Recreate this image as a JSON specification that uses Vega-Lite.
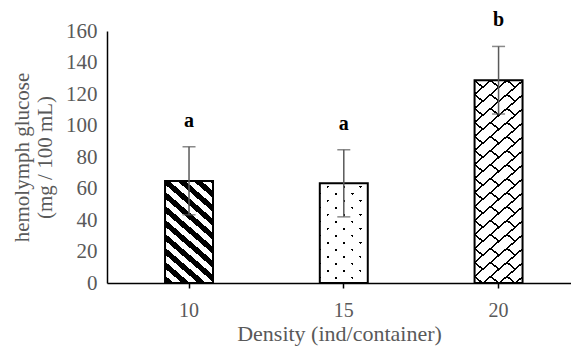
{
"$schema":"https://vega.github.io/schema/vega-lite/v6.json",
"width":464,"height":252,
"autosize":{"type":"none"},
"padding":{"left":107,"top":31,"right":0,"bottom":69},
"background":"white",
"config":{"view":{"stroke":null},"font":"Liberation Serif",
"axisY":{"grid":false,"ticks":false,"tickSize":0,"labelPadding":10,"labelFont":"Liberation Serif","labelFontSize":21,"labelColor":"#595959","domainColor":"black","domainWidth":1.5,"titleFont":"Liberation Serif","titleFontSize":21,"titleFontWeight":"normal","titleColor":"#595959","titleX":-85,"titleY":126,"titleAngle":-90,"titleBaseline":"middle","titleAlign":"center","titleLineHeight":23}},
"data":{"values":[
{"density":10,"mean":64.8,"lo":43.3,"hi":86.5,"sig":"a"},
{"density":15,"mean":63.4,"lo":42.0,"hi":84.6,"sig":"a"},
{"density":20,"mean":128.7,"lo":107.3,"hi":150.2,"sig":"b"}]},
"encoding":{
"x":{"field":"density","type":"ordinal","scale":{"type":"band","paddingInner":0.69,"paddingOuter":0.344,"align":0.545},
"axis":{"title":"Density (ind/container)","labelAngle":0,"labelFont":"Liberation Serif","labelFontSize":20,"labelColor":"#595959","labelBaseline":"alphabetic","labelPadding":28,"tickSize":5,"tickColor":"black","tickWidth":1.5,"domainColor":"black","domainWidth":1.5,"titleFont":"Liberation Serif","titleFontSize":22,"titleFontWeight":"normal","titleColor":"#595959","titleBaseline":"alphabetic","titleY":57}},
"y":{"field":"mean","type":"quantitative","scale":{"domain":[0,160],"nice":false},
"axis":{"title":["hemolymph glucose","(mg / 100 mL)"],"values":[0,20,40,60,80,100,120,140,160]}}
},
"layer":[
{"transform":[{"filter":"datum.density == 10"}],
"mark":{"type":"bar","fill":{"gradient":"linear","x1":0,"y1":1,"x2":0.4903,"y2":-0.207,"stops":[
{"offset":0,"color":"white"},{"offset":0.00418,"color":"white"},{"offset":0.00418,"color":"black"},{"offset":0.05294,"color":"black"},{"offset":0.05294,"color":"white"},{"offset":0.10169,"color":"white"},{"offset":0.10169,"color":"black"},{"offset":0.15045,"color":"black"},{"offset":0.15045,"color":"white"},{"offset":0.19921,"color":"white"},{"offset":0.19921,"color":"black"},{"offset":0.24796,"color":"black"},{"offset":0.24796,"color":"white"},{"offset":0.29672,"color":"white"},{"offset":0.29672,"color":"black"},{"offset":0.34548,"color":"black"},{"offset":0.34548,"color":"white"},{"offset":0.39423,"color":"white"},{"offset":0.39423,"color":"black"},{"offset":0.44299,"color":"black"},{"offset":0.44299,"color":"white"},{"offset":0.49175,"color":"white"},{"offset":0.49175,"color":"black"},{"offset":0.5405,"color":"black"},{"offset":0.5405,"color":"white"},{"offset":0.58926,"color":"white"},{"offset":0.58926,"color":"black"},{"offset":0.63802,"color":"black"},{"offset":0.63802,"color":"white"},{"offset":0.68677,"color":"white"},{"offset":0.68677,"color":"black"},{"offset":0.73553,"color":"black"},{"offset":0.73553,"color":"white"},{"offset":0.78428,"color":"white"},{"offset":0.78428,"color":"black"},{"offset":0.83304,"color":"black"},{"offset":0.83304,"color":"white"},{"offset":0.8818,"color":"white"},{"offset":0.8818,"color":"black"},{"offset":0.93056,"color":"black"},{"offset":0.93056,"color":"white"},{"offset":0.97931,"color":"white"},{"offset":0.97931,"color":"black"},{"offset":1,"color":"black"}]}}},
{"transform":[{"filter":"datum.density == 15"}],
"mark":{"type":"bar","fill":{"gradient":"linear","x1":0,"y1":1,"x2":0.5021,"y2":-0.2071,"stops":[
{"offset":0,"color":"white"},{"offset":0.02763,"color":"white"},{"offset":0.02763,"color":"black"},{"offset":0.04604,"color":"black"},{"offset":0.04604,"color":"white"},{"offset":0.1268,"color":"white"},{"offset":0.1268,"color":"black"},{"offset":0.14522,"color":"black"},{"offset":0.14522,"color":"white"},{"offset":0.22597,"color":"white"},{"offset":0.22597,"color":"black"},{"offset":0.24439,"color":"black"},{"offset":0.24439,"color":"white"},{"offset":0.32514,"color":"white"},{"offset":0.32514,"color":"black"},{"offset":0.34356,"color":"black"},{"offset":0.34356,"color":"white"},{"offset":0.42431,"color":"white"},{"offset":0.42431,"color":"black"},{"offset":0.44273,"color":"black"},{"offset":0.44273,"color":"white"},{"offset":0.52348,"color":"white"},{"offset":0.52348,"color":"black"},{"offset":0.5419,"color":"black"},{"offset":0.5419,"color":"white"},{"offset":0.62265,"color":"white"},{"offset":0.62265,"color":"black"},{"offset":0.64107,"color":"black"},{"offset":0.64107,"color":"white"},{"offset":0.72183,"color":"white"},{"offset":0.72183,"color":"black"},{"offset":0.74024,"color":"black"},{"offset":0.74024,"color":"white"},{"offset":0.821,"color":"white"},{"offset":0.821,"color":"black"},{"offset":0.83941,"color":"black"},{"offset":0.83941,"color":"white"},{"offset":0.92017,"color":"white"},{"offset":0.92017,"color":"black"},{"offset":0.93858,"color":"black"},{"offset":0.93858,"color":"white"},{"offset":1,"color":"white"}]}}},
{"transform":[{"filter":"datum.density == 15"}],
"mark":{"type":"bar","fill":{"gradient":"linear","x1":0,"y1":0,"x2":0.5021,"y2":1.2071,"stops":[
{"offset":0,"color":"white"},{"offset":0.06517,"color":"white"},{"offset":0.06517,"color":"rgba(255,255,255,0)"},{"offset":0.08359,"color":"rgba(255,255,255,0)"},{"offset":0.08359,"color":"white"},{"offset":0.16434,"color":"white"},{"offset":0.16434,"color":"rgba(255,255,255,0)"},{"offset":0.18276,"color":"rgba(255,255,255,0)"},{"offset":0.18276,"color":"white"},{"offset":0.26351,"color":"white"},{"offset":0.26351,"color":"rgba(255,255,255,0)"},{"offset":0.28193,"color":"rgba(255,255,255,0)"},{"offset":0.28193,"color":"white"},{"offset":0.36268,"color":"white"},{"offset":0.36268,"color":"rgba(255,255,255,0)"},{"offset":0.3811,"color":"rgba(255,255,255,0)"},{"offset":0.3811,"color":"white"},{"offset":0.46186,"color":"white"},{"offset":0.46186,"color":"rgba(255,255,255,0)"},{"offset":0.48027,"color":"rgba(255,255,255,0)"},{"offset":0.48027,"color":"white"},{"offset":0.56103,"color":"white"},{"offset":0.56103,"color":"rgba(255,255,255,0)"},{"offset":0.57944,"color":"rgba(255,255,255,0)"},{"offset":0.57944,"color":"white"},{"offset":0.6602,"color":"white"},{"offset":0.6602,"color":"rgba(255,255,255,0)"},{"offset":0.67862,"color":"rgba(255,255,255,0)"},{"offset":0.67862,"color":"white"},{"offset":0.75937,"color":"white"},{"offset":0.75937,"color":"rgba(255,255,255,0)"},{"offset":0.77779,"color":"rgba(255,255,255,0)"},{"offset":0.77779,"color":"white"},{"offset":0.85854,"color":"white"},{"offset":0.85854,"color":"rgba(255,255,255,0)"},{"offset":0.87696,"color":"rgba(255,255,255,0)"},{"offset":0.87696,"color":"white"},{"offset":0.95771,"color":"white"},{"offset":0.95771,"color":"rgba(255,255,255,0)"},{"offset":0.97613,"color":"rgba(255,255,255,0)"},{"offset":0.97613,"color":"white"},{"offset":1,"color":"white"}]}}},
{"transform":[{"filter":"datum.density == 20"}],
"mark":{"type":"bar","fill":{"gradient":"linear","x1":0,"y1":1,"x2":0.2366,"y2":-0.1562,"stops":[
{"offset":0,"color":"white"},{"offset":0.02334,"color":"white"},{"offset":0.02334,"color":"black"},{"offset":0.03154,"color":"black"},{"offset":0.03154,"color":"white"},{"offset":0.08068,"color":"white"},{"offset":0.08068,"color":"black"},{"offset":0.08887,"color":"black"},{"offset":0.08887,"color":"white"},{"offset":0.13802,"color":"white"},{"offset":0.13802,"color":"black"},{"offset":0.14621,"color":"black"},{"offset":0.14621,"color":"white"},{"offset":0.19536,"color":"white"},{"offset":0.19536,"color":"black"},{"offset":0.20355,"color":"black"},{"offset":0.20355,"color":"white"},{"offset":0.25269,"color":"white"},{"offset":0.25269,"color":"black"},{"offset":0.26088,"color":"black"},{"offset":0.26088,"color":"white"},{"offset":0.31003,"color":"white"},{"offset":0.31003,"color":"black"},{"offset":0.31822,"color":"black"},{"offset":0.31822,"color":"white"},{"offset":0.36737,"color":"white"},{"offset":0.36737,"color":"black"},{"offset":0.37556,"color":"black"},{"offset":0.37556,"color":"white"},{"offset":0.42471,"color":"white"},{"offset":0.42471,"color":"black"},{"offset":0.4329,"color":"black"},{"offset":0.4329,"color":"white"},{"offset":0.48204,"color":"white"},{"offset":0.48204,"color":"black"},{"offset":0.49023,"color":"black"},{"offset":0.49023,"color":"white"},{"offset":0.53938,"color":"white"},{"offset":0.53938,"color":"black"},{"offset":0.54757,"color":"black"},{"offset":0.54757,"color":"white"},{"offset":0.59672,"color":"white"},{"offset":0.59672,"color":"black"},{"offset":0.60491,"color":"black"},{"offset":0.60491,"color":"white"},{"offset":0.65405,"color":"white"},{"offset":0.65405,"color":"black"},{"offset":0.66225,"color":"black"},{"offset":0.66225,"color":"white"},{"offset":0.71139,"color":"white"},{"offset":0.71139,"color":"black"},{"offset":0.71958,"color":"black"},{"offset":0.71958,"color":"white"},{"offset":0.76873,"color":"white"},{"offset":0.76873,"color":"black"},{"offset":0.77692,"color":"black"},{"offset":0.77692,"color":"white"},{"offset":0.82607,"color":"white"},{"offset":0.82607,"color":"black"},{"offset":0.83426,"color":"black"},{"offset":0.83426,"color":"white"},{"offset":0.8834,"color":"white"},{"offset":0.8834,"color":"black"},{"offset":0.8916,"color":"black"},{"offset":0.8916,"color":"white"},{"offset":0.94074,"color":"white"},{"offset":0.94074,"color":"black"},{"offset":0.94893,"color":"black"},{"offset":0.94893,"color":"white"},{"offset":1,"color":"white"}]}}},
{"transform":[{"filter":"datum.density == 20"}],
"mark":{"type":"bar","fill":{"gradient":"linear","x1":0,"y1":0,"x2":0,"y2":1,"stops":[
{"offset":0,"color":"rgba(255,255,255,0)"},{"offset":0.034534,"color":"rgba(255,255,255,0)"},{"offset":0.034534,"color":"white"},{"offset":0.069068,"color":"white"},{"offset":0.069068,"color":"rgba(255,255,255,0)"},{"offset":0.103601,"color":"rgba(255,255,255,0)"},{"offset":0.103601,"color":"white"},{"offset":0.138135,"color":"white"},{"offset":0.138135,"color":"rgba(255,255,255,0)"},{"offset":0.172669,"color":"rgba(255,255,255,0)"},{"offset":0.172669,"color":"white"},{"offset":0.207203,"color":"white"},{"offset":0.207203,"color":"rgba(255,255,255,0)"},{"offset":0.241736,"color":"rgba(255,255,255,0)"},{"offset":0.241736,"color":"white"},{"offset":0.27627,"color":"white"},{"offset":0.27627,"color":"rgba(255,255,255,0)"},{"offset":0.310804,"color":"rgba(255,255,255,0)"},{"offset":0.310804,"color":"white"},{"offset":0.345338,"color":"white"},{"offset":0.345338,"color":"rgba(255,255,255,0)"},{"offset":0.379872,"color":"rgba(255,255,255,0)"},{"offset":0.379872,"color":"white"},{"offset":0.414405,"color":"white"},{"offset":0.414405,"color":"rgba(255,255,255,0)"},{"offset":0.448939,"color":"rgba(255,255,255,0)"},{"offset":0.448939,"color":"white"},{"offset":0.483473,"color":"white"},{"offset":0.483473,"color":"rgba(255,255,255,0)"},{"offset":0.518007,"color":"rgba(255,255,255,0)"},{"offset":0.518007,"color":"white"},{"offset":0.552541,"color":"white"},{"offset":0.552541,"color":"rgba(255,255,255,0)"},{"offset":0.587074,"color":"rgba(255,255,255,0)"},{"offset":0.587074,"color":"white"},{"offset":0.621608,"color":"white"},{"offset":0.621608,"color":"rgba(255,255,255,0)"},{"offset":0.656142,"color":"rgba(255,255,255,0)"},{"offset":0.656142,"color":"white"},{"offset":0.690676,"color":"white"},{"offset":0.690676,"color":"rgba(255,255,255,0)"},{"offset":0.72521,"color":"rgba(255,255,255,0)"},{"offset":0.72521,"color":"white"},{"offset":0.759743,"color":"white"},{"offset":0.759743,"color":"rgba(255,255,255,0)"},{"offset":0.794277,"color":"rgba(255,255,255,0)"},{"offset":0.794277,"color":"white"},{"offset":0.828811,"color":"white"},{"offset":0.828811,"color":"rgba(255,255,255,0)"},{"offset":0.863345,"color":"rgba(255,255,255,0)"},{"offset":0.863345,"color":"white"},{"offset":0.897879,"color":"white"},{"offset":0.897879,"color":"rgba(255,255,255,0)"},{"offset":0.932412,"color":"rgba(255,255,255,0)"},{"offset":0.932412,"color":"white"},{"offset":0.966946,"color":"white"},{"offset":0.966946,"color":"rgba(255,255,255,0)"},{"offset":1,"color":"rgba(255,255,255,0)"}]}}},
{"transform":[{"filter":"datum.density == 20"}],
"mark":{"type":"bar","fill":{"gradient":"linear","x1":0,"y1":0,"x2":0.2366,"y2":1.1562,"stops":[
{"offset":0,"color":"rgba(0,0,0,0)"},{"offset":0.05324,"color":"rgba(0,0,0,0)"},{"offset":0.05324,"color":"black"},{"offset":0.06143,"color":"black"},{"offset":0.06143,"color":"rgba(0,0,0,0)"},{"offset":0.11058,"color":"rgba(0,0,0,0)"},{"offset":0.11058,"color":"black"},{"offset":0.11877,"color":"black"},{"offset":0.11877,"color":"rgba(0,0,0,0)"},{"offset":0.16792,"color":"rgba(0,0,0,0)"},{"offset":0.16792,"color":"black"},{"offset":0.17611,"color":"black"},{"offset":0.17611,"color":"rgba(0,0,0,0)"},{"offset":0.22525,"color":"rgba(0,0,0,0)"},{"offset":0.22525,"color":"black"},{"offset":0.23344,"color":"black"},{"offset":0.23344,"color":"rgba(0,0,0,0)"},{"offset":0.28259,"color":"rgba(0,0,0,0)"},{"offset":0.28259,"color":"black"},{"offset":0.29078,"color":"black"},{"offset":0.29078,"color":"rgba(0,0,0,0)"},{"offset":0.33993,"color":"rgba(0,0,0,0)"},{"offset":0.33993,"color":"black"},{"offset":0.34812,"color":"black"},{"offset":0.34812,"color":"rgba(0,0,0,0)"},{"offset":0.39726,"color":"rgba(0,0,0,0)"},{"offset":0.39726,"color":"black"},{"offset":0.40546,"color":"black"},{"offset":0.40546,"color":"rgba(0,0,0,0)"},{"offset":0.4546,"color":"rgba(0,0,0,0)"},{"offset":0.4546,"color":"black"},{"offset":0.46279,"color":"black"},{"offset":0.46279,"color":"rgba(0,0,0,0)"},{"offset":0.51194,"color":"rgba(0,0,0,0)"},{"offset":0.51194,"color":"black"},{"offset":0.52013,"color":"black"},{"offset":0.52013,"color":"rgba(0,0,0,0)"},{"offset":0.56928,"color":"rgba(0,0,0,0)"},{"offset":0.56928,"color":"black"},{"offset":0.57747,"color":"black"},{"offset":0.57747,"color":"rgba(0,0,0,0)"},{"offset":0.62661,"color":"rgba(0,0,0,0)"},{"offset":0.62661,"color":"black"},{"offset":0.63481,"color":"black"},{"offset":0.63481,"color":"rgba(0,0,0,0)"},{"offset":0.68395,"color":"rgba(0,0,0,0)"},{"offset":0.68395,"color":"black"},{"offset":0.69214,"color":"black"},{"offset":0.69214,"color":"rgba(0,0,0,0)"},{"offset":0.74129,"color":"rgba(0,0,0,0)"},{"offset":0.74129,"color":"black"},{"offset":0.74948,"color":"black"},{"offset":0.74948,"color":"rgba(0,0,0,0)"},{"offset":0.79862,"color":"rgba(0,0,0,0)"},{"offset":0.79862,"color":"black"},{"offset":0.80682,"color":"black"},{"offset":0.80682,"color":"rgba(0,0,0,0)"},{"offset":0.85596,"color":"rgba(0,0,0,0)"},{"offset":0.85596,"color":"black"},{"offset":0.86415,"color":"black"},{"offset":0.86415,"color":"rgba(0,0,0,0)"},{"offset":0.9133,"color":"rgba(0,0,0,0)"},{"offset":0.9133,"color":"black"},{"offset":0.92149,"color":"black"},{"offset":0.92149,"color":"rgba(0,0,0,0)"},{"offset":0.97064,"color":"rgba(0,0,0,0)"},{"offset":0.97064,"color":"black"},{"offset":0.97883,"color":"black"},{"offset":0.97883,"color":"rgba(0,0,0,0)"},{"offset":1,"color":"rgba(0,0,0,0)"}]}}},
{"mark":{"type":"bar","fill":"transparent","stroke":"black","strokeWidth":2}},
{"mark":{"type":"rule","color":"#595959","strokeWidth":1.5},
"encoding":{"y":{"field":"lo","type":"quantitative","axis":{"title":["hemolymph glucose","(mg / 100 mL)"],"values":[0,20,40,60,80,100,120,140,160]}},"y2":{"field":"hi"}}},
{"mark":{"type":"tick","color":"#595959","thickness":1.5,"size":13},
"encoding":{"y":{"field":"hi","type":"quantitative","axis":{"title":["hemolymph glucose","(mg / 100 mL)"],"values":[0,20,40,60,80,100,120,140,160]}}}},
{"mark":{"type":"tick","color":"#595959","thickness":1.5,"size":13},
"encoding":{"y":{"field":"lo","type":"quantitative","axis":{"title":["hemolymph glucose","(mg / 100 mL)"],"values":[0,20,40,60,80,100,120,140,160]}}}},
{"mark":{"type":"text","font":"Liberation Serif","fontSize":20,"fontWeight":"bold","color":"black","dy":-20,"baseline":"alphabetic"},
"encoding":{"y":{"field":"hi","type":"quantitative","axis":{"title":["hemolymph glucose","(mg / 100 mL)"],"values":[0,20,40,60,80,100,120,140,160]}},"text":{"field":"sig"}}}
]
}
